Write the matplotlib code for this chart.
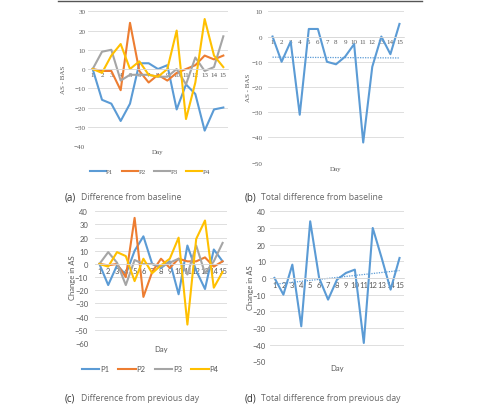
import numpy as np
import matplotlib
matplotlib.use("Agg")
import matplotlib.pyplot as plt
from matplotlib.lines import Line2D
from matplotlib.transforms import blended_transform_factory

days = list(range(1, 16))
day_labels = [str(d) for d in days]

# (a) Difference from baseline
a_P1 = [0, -16, -18, -27, -18, 3, 3, 0, 2, -21, -8, -13, -32, -21, -20]
a_P2 = [0, -1, -1, -11, 24, -1, -7, -3, -6, -2, 0, 2, 7, 5, 7]
a_P3 = [0, 9, 10, -6, -3, -3, -3, -4, -4, 0, -8, 6, -1, 1, 17]
a_P4 = [0, -2, 7, 13, 0, 4, -3, -4, 0, 20, -26, -7, 26, 7, 1]

# (b) Total difference from baseline
b_total = [0, -10, -2, -31, 3, 3, -10, -11, -8, -3, -42, -12, 0, -7, 5]

# (c) Difference from previous day
c_P1 = [0, -16, -1, -8, 10, 21, 0, -3, 2, -23, 14, -5, -19, 11, 2]
c_P2 = [0, -1, 0, -10, 35, -25, -6, 4, -3, 4, 2, 2, 5, -2, 2]
c_P3 = [0, 9, 1, -16, 3, 0, 0, -2, 1, 4, -8, 14, -7, 2, 16]
c_P4 = [0, -2, 9, 6, -13, 4, -7, -1, 4, 20, -46, 19, 33, -18, -6]

# (d) Total difference from previous day
d_total = [0, -10, 8, -29, 34, 0, -13, -1, 3, 5, -39, 30, 12, -7, 12]

series_names = ["P1", "P2", "P3", "P4"]
colors = ["#5B9BD5", "#ED7D31", "#A5A5A5", "#FFC000"]
grid_c = "#D9D9D9"
txt_c = "#595959"

W, H = 478, 406
fig = plt.figure(figsize=(W / 100, H / 100), dpi=100)


def rect(x0, x1, ytop, ybot):
    return [x0 / W, 1 - ybot / H, (x1 - x0) / W, (ybot - ytop) / H]


def setup(ax, ylim, step, font, ylabel, ypad, ylabel_x, day_offset, lsize=5):
    ax.set_xlim(0.5, 15.5)
    ax.set_ylim(*ylim)
    ax.set_yticks(np.arange(ylim[0], ylim[1] + 0.1, step))
    ax.yaxis.grid(True, color=grid_c, lw=0.6)
    ax.set_axisbelow(True)
    for s in ["top", "right", "left"]:
        ax.spines[s].set_visible(False)
    ax.spines["bottom"].set_position(("data", 0))
    ax.spines["bottom"].set_color(grid_c)
    ax.spines["bottom"].set_linewidth(0.6)
    ax.set_xticks(days)
    ax.set_xticklabels(day_labels)
    ax.tick_params(axis="x", length=0, pad=2, labelsize=lsize, labelcolor=txt_c)
    ax.tick_params(axis="y", length=0, pad=ypad, labelsize=lsize, labelcolor=txt_c)
    for lab in ax.get_xticklabels() + ax.get_yticklabels():
        lab.set_fontfamily(font)
    tr = blended_transform_factory(fig.transFigure, ax.transAxes)
    ax.text(ylabel_x, 0.5, ylabel, transform=tr, rotation=90, ha="center", va="center",
            fontsize=lsize, color=txt_c, family=font)
    ax.annotate("Day", xy=(0.5, 0), xycoords="axes fraction",
                xytext=(0, -day_offset), textcoords="offset pixels",
                ha="center", va="center", fontsize=lsize, color=txt_c, family=font)


# (a)
axa = fig.add_axes(rect(88, 228, 12.3, 147))
for vals, c in zip([a_P1, a_P2, a_P3, a_P4], colors):
    axa.plot(days, vals, color=c, lw=1.5)
setup(axa, (-40, 30), 10, "Liberation Serif", "AS - BAS", 2, 64 / W, 6)

# (b)
axb = fig.add_axes(rect(268, 404, 12.3, 163.7))
axb.plot(days, b_total, color=colors[0], lw=1.5)
pb = np.polyfit(days, b_total, 1)
axb.plot([1, 15], np.polyval(pb, [1, 15]), color=colors[0], lw=0.9, ls=(0, (1, 1)))
setup(axb, (-50, 10), 10, "Liberation Serif", "AS - BAS", 4, 249 / W, 6)

# (c)
axc = fig.add_axes(rect(95, 227, 212.3, 344))
for vals, c in zip([c_P1, c_P2, c_P3, c_P4], colors):
    axc.plot(days, vals, color=c, lw=1.5)
setup(axc, (-60, 40), 10, "Lato", "Change in AS", 5, 72 / W, 6, lsize=5.5)

# (d)
axd = fig.add_axes(rect(270, 404, 212.3, 362.3))
axd.plot(days, d_total, color=colors[0], lw=1.5)
pd_ = np.polyfit(days, d_total, 1)
axd.plot([1, 15], np.polyval(pd_, [1, 15]), color=colors[0], lw=0.9, ls=(0, (1, 1)))
setup(axd, (-50, 40), 10, "Lato", "Change in AS", 3, 250 / W, 6, lsize=5.5)

# legends
handles = [Line2D([], [], color=c, lw=1.5) for c in colors]
fig.legend(handles, series_names, loc="center", bbox_to_anchor=(150 / W, 1 - 172 / H),
           ncol=4, frameon=False, handlelength=2.3, columnspacing=1.2, handletextpad=0.1,
           prop={"family": "Liberation Serif", "size": 5}, labelcolor=txt_c)
fig.legend(handles, series_names, loc="center", bbox_to_anchor=(150 / W, 1 - 370 / H),
           ncol=4, frameon=False, handlelength=2.3, columnspacing=1.2, handletextpad=0.1,
           prop={"family": "Lato", "size": 5.5}, labelcolor=txt_c)

# captions
caps = [("(a)", "Difference from baseline", 65, 198),
        ("(b)", "Total difference from baseline", 245, 198),
        ("(c)", "Difference from previous day", 65, 399),
        ("(d)", "Total difference from previous day", 245, 399)]
for lab, text, x, y in caps:
    fig.text(x / W, 1 - y / H, lab, fontsize=7, color="#333333", family="Open Sans",
             va="center", ha="left")
    fig.text((x + 16) / W, 1 - y / H, text, fontsize=6.2, color="#666666", family="Open Sans",
             va="center", ha="left")

# top rule
fig.add_artist(Line2D([58 / W, 422 / W], [1 - 1.5 / H, 1 - 1.5 / H], color="#555555", lw=1))

fig.savefig("out.png", dpi=100)
